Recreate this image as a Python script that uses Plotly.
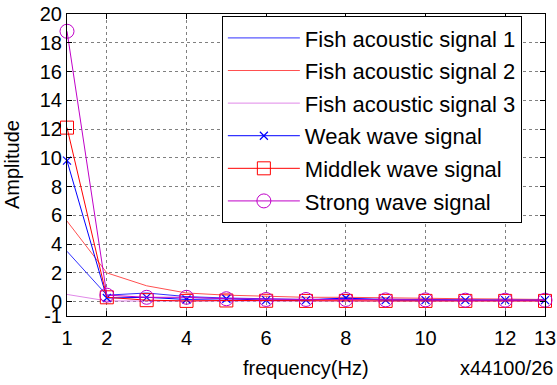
import plotly.graph_objects as go

freq = list(range(1, 14))
fish1 = [3.5, 0.45, 0.6, 0.35, 0.25, 0.2, 0.15, 0.2, 0.15, 0.15, 0.12, 0.1, 0.1]
fish2 = [5.6, 2.0, 1.1, 0.6, 0.45, 0.35, 0.3, 0.3, 0.25, 0.22, 0.2, 0.18, 0.15]
fish3 = [0.5, 0.05, 0.04, 0.04, 0.03, 0.03, 0.03, 0.03, 0.03, 0.03, 0.03, 0.03, 0.03]
weak = [9.8, 0.25, 0.3, 0.15, 0.2, 0.1, 0.1, 0.25, 0.1, 0.1, 0.1, 0.1, 0.1]
middle = [12.1, 0.3, 0.1, 0.05, 0.08, 0.06, 0.05, 0.05, 0.05, 0.05, 0.05, 0.05, 0.05]
strong = [18.8, 0.45, 0.3, 0.3, 0.2, 0.15, 0.15, 0.15, 0.12, 0.12, 0.1, 0.1, 0.1]

names = ["Fish acoustic signal 1", "Fish acoustic signal 2", "Fish acoustic signal 3",
         "Weak wave signal", "Middlek wave signal", "Strong wave signal"]
x_ticks = [1, 2, 4, 6, 8, 10, 12, 13]
y_ticks = [-1, 0, 2, 4, 6, 8, 10, 12, 14, 16, 18, 20]

fig = go.Figure()
fig.add_trace(go.Scatter(x=freq, y=fish1, name=names[0], mode="lines",
                         line=dict(color="#3030FF", width=1), legendgroup="a", cliponaxis=False))
fig.add_trace(go.Scatter(x=freq, y=fish2, name=names[1], mode="lines",
                         line=dict(color="#FF5050", width=1), legendgroup="b", cliponaxis=False))
fig.add_trace(go.Scatter(x=freq, y=fish3, name=names[2], mode="lines",
                         line=dict(color="#E088E8", width=1), legendgroup="c", cliponaxis=False))
fig.add_trace(go.Scatter(x=freq, y=weak, name=names[3], mode="lines+markers",
                         line=dict(color="#0000FF", width=1),
                         marker=dict(symbol="x-thin", size=8, line=dict(color="#0000FF", width=1.2)),
                         legendgroup="d", cliponaxis=False))
fig.add_trace(go.Scatter(x=freq, y=middle, name=names[4], mode="lines+markers",
                         line=dict(color="#FF0000", width=1),
                         marker=dict(symbol="square-open", size=13, color="#FF0000", line=dict(width=1)),
                         legendgroup="e", cliponaxis=False))
fig.add_trace(go.Scatter(x=freq, y=strong, name=names[5], mode="lines+markers",
                         line=dict(color="#C000C8", width=1),
                         marker=dict(symbol="circle-open", size=14, color="#C000C8", line=dict(width=1)),
                         legendgroup="f", cliponaxis=False))

axis_common = dict(showline=True, linecolor="black", linewidth=1, mirror="ticks",
                   ticks="inside", ticklen=5, tickcolor="black",
                   showgrid=True, gridcolor="#808080", griddash="dot", gridwidth=1,
                   zeroline=False, tickfont=dict(size=20, color="black"), automargin=False)

fig.update_xaxes(range=[1, 13], tickmode="array", tickvals=x_ticks,
                 ticktext=[str(v) for v in x_ticks], ticklabelstandoff=4, **axis_common)
fig.update_yaxes(range=[-1, 20], tickmode="array", tickvals=y_ticks,
                 ticktext=[str(v) for v in y_ticks], **axis_common)

# Axis titles and the scale note
fig.add_annotation(text="Amplitude", xref="paper", yref="paper",
                   x=-0.115, y=0.5, xanchor="center", yanchor="middle", textangle=-90,
                   showarrow=False, font=dict(size=20, color="black"))
fig.add_annotation(text="frequency(Hz)", xref="paper", yref="paper",
                   x=0.5, y=-0.172, xanchor="center", yanchor="middle",
                   showarrow=False, font=dict(size=20, color="black"))
fig.add_annotation(text="x44100/26", xref="paper", yref="paper", x=1.021, y=-0.172,
                   xanchor="right", yanchor="middle", showarrow=False,
                   font=dict(size=20, color="black"))

fig.update_layout(
    width=557, height=385,
    margin=dict(l=67, r=12, t=14, b=69, autoexpand=False),
    paper_bgcolor="white", plot_bgcolor="white",
    font=dict(family="Liberation Sans, Arial, sans-serif", size=20, color="black"),
    legend=dict(x=0.324, y=0.993, xanchor="left", yanchor="top",
                bgcolor="white", bordercolor="black", borderwidth=1,
                font=dict(size=22, color="black"), itemwidth=72,
                tracegroupgap=1, traceorder="grouped"),
)

fig.write_html("out.html", config={"displayModeBar": False},
               post_script="document.body.style.margin='0';")
